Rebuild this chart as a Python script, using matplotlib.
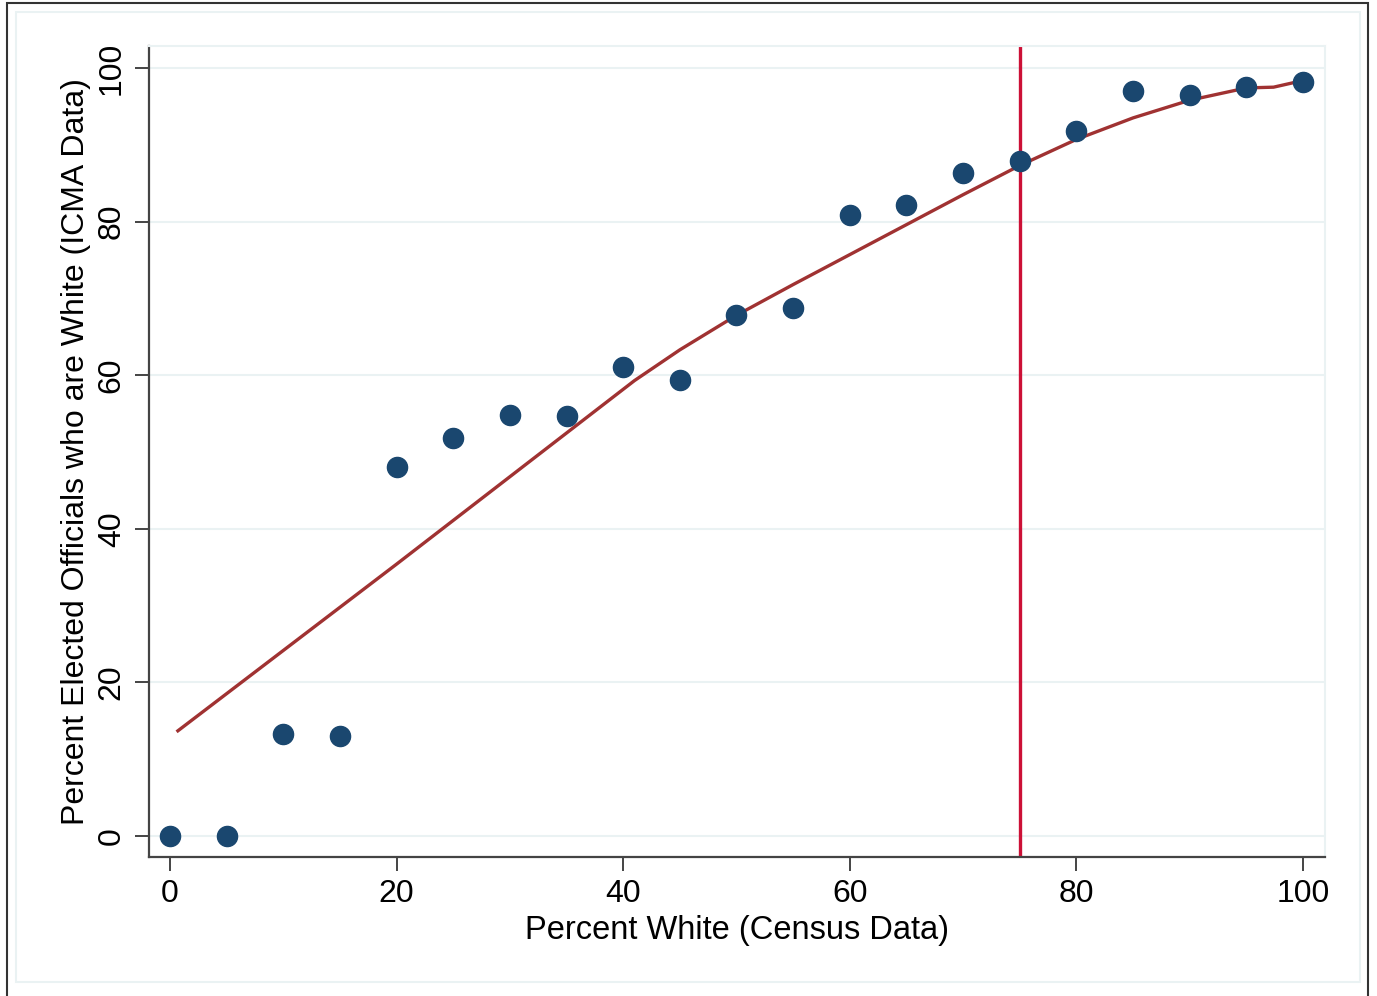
import matplotlib
matplotlib.use("Agg")
from matplotlib import pyplot as plt
from matplotlib.patches import Rectangle

plt.rcParams['font.family'] = ['Liberation Sans', 'DejaVu Sans']

# binned scatter: percent white (census) vs percent elected officials white (ICMA)
pct_white = [0, 5, 10, 15, 20, 25, 30, 35, 40, 45, 50, 55, 60, 65, 70, 75, 80, 85, 90, 95, 100]
pct_officials = [0.0, 0.0, 13.3, 13.0, 48.0, 51.8, 54.8, 54.7, 61.1, 59.4, 67.8, 68.8,
                 80.9, 82.2, 86.3, 87.9, 91.8, 97.0, 96.5, 97.5, 98.2]

# lowess fit
fit_x = [0.7, 20, 41, 45, 50, 55, 60, 65, 70, 75, 80, 85, 90, 95, 97.4, 99.8]
fit_y = [13.7, 35.4, 59.3, 63.3, 67.8, 71.8, 75.7, 79.6, 83.5, 87.3, 90.7, 93.5, 95.8, 97.4, 97.5, 98.3]

cutoff = 75

navy = '#1a476f'
grid_col = '#eaf2f3'
axis_col = '#444444'

fig = plt.figure(figsize=(13.77, 9.96), dpi=100)
fig.patch.set_facecolor('white')

# outer frames
fig.add_artist(Rectangle((7 / 1377, -0.01), 1361 / 1377, 1.01 - 3 / 996, transform=fig.transFigure,
                         fill=False, edgecolor='#333333', linewidth=1.5))
fig.add_artist(Rectangle((16 / 1377, 14 / 996), 1344 / 1377, 1 - 26 / 996, transform=fig.transFigure,
                         fill=False, edgecolor=grid_col, linewidth=1.5))

ax = fig.add_axes([149 / 1377, 1 - 857 / 996, 1176 / 1377, 811 / 996])

for yv in range(0, 101, 20):
    ax.axhline(yv, color=grid_col, linewidth=1.5, zorder=0)

ax.axvline(cutoff, color='#cc1036', linewidth=2.4, zorder=2)
ax.plot(fit_x, fit_y, color='#a03232', linewidth=2.4, zorder=3)
ax.plot(pct_white, pct_officials, 'o', color=navy, markersize=14.5, zorder=4)

ax.set_xlim(-1.85, 101.94)
ax.set_ylim(-2.73, 102.86)
ax.set_xticks(range(0, 101, 20))
ax.set_yticks(range(0, 101, 20))

for s in ['top', 'right']:
    ax.spines[s].set_color(grid_col)
    ax.spines[s].set_linewidth(1.5)
for s in ['left', 'bottom']:
    ax.spines[s].set_color(axis_col)
    ax.spines[s].set_linewidth(1.6)

ax.tick_params(axis='both', length=10, width=1.4, color=axis_col, labelsize=23, pad=6)
for lbl in ax.get_yticklabels():
    lbl.set_rotation(90)
    lbl.set_va('center')

ax.set_xlabel("Percent White (Census Data)", fontsize=23.5, labelpad=4)
ax.set_ylabel("Percent Elected Officials who are White (ICMA Data)", fontsize=23, labelpad=4)

fig.savefig("out.png", dpi=100)
